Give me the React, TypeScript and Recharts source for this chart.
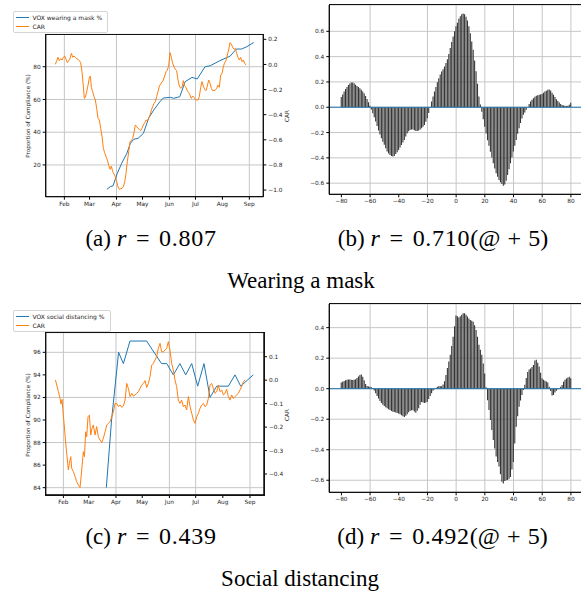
import React from "react";
import { ComposedChart, LineChart, Line, Bar, XAxis, YAxis, CartesianGrid, ReferenceLine, Legend } from "recharts";

// month ticks on a day-of-year axis (2020, Jan 1 = 0)
const MONTH_TICKS = [31, 60, 91, 121, 152, 182, 213, 244];
const MONTH_LABELS = ["Feb", "Mar", "Apr", "May", "Jun", "Jul", "Aug", "Sep"];

// (a) wearing a mask
const maskVoxDay = [80, 84, 87, 92, 97, 103, 107, 111, 116, 122, 128, 134, 141, 145, 153, 157, 164, 170, 178, 184, 193, 199, 210, 222, 229, 235, 241, 249];
const maskVoxPct = [5.1, 6.8, 7.2, 14.9, 21, 27.1, 33.2, 35.7, 36.3, 39.3, 48.5, 53.6, 58.6, 60.9, 61.3, 60.7, 61.7, 70.8, 73.5, 72.5, 80, 80.6, 83.7, 86.5, 90.8, 90.8, 92.2, 94.8];
const maskCarDay = [
  20.6, 22.2, 23.7, 25.2, 26.8, 28.3, 29.8, 31.4, 32.9, 34.5, 36.0, 37.5, 39.1, 40.6, 42.1, 43.7, 45.2, 46.7, 48.3, 49.8,
  51.3, 52.9, 54.0, 55.2, 56.7, 58.3, 59.8, 60.9, 62.1, 63.6, 65.2, 66.7, 68.2, 69.8, 71.3, 72.8, 74.4, 75.9, 77.4, 79.0,
  80.5, 82.0, 83.6, 85.1, 86.7, 88.2, 89.7, 91.3, 92.8, 94.3, 95.9, 97.4, 98.9, 100.5, 102.0, 103.5, 105.1, 106.6, 108.1, 109.7,
  111.2, 112.7, 114.3, 115.8, 117.4, 118.9, 120.4, 122.0, 123.5, 125.0, 126.6, 128.1, 129.6, 131.2, 132.7, 134.2, 135.8, 137.3, 138.8, 140.4,
  141.9, 143.5, 145.0, 146.5, 148.1, 149.6, 151.1, 152.7, 154.2, 155.7, 157.3, 158.8, 160.3, 161.9, 163.4, 164.9, 166.5, 168.0, 169.6, 171.1,
  172.6, 174.2, 175.7, 177.2, 178.8, 180.3, 181.8, 183.4, 184.9, 186.4, 188.0, 189.5, 191.0, 192.6, 194.1, 195.6, 197.2, 198.7, 200.3, 201.8,
  203.3, 204.9, 206.4, 207.9, 209.5, 211.0, 212.5, 214.1, 215.6, 217.1, 218.7, 220.2, 221.7, 223.3, 224.8, 226.4, 227.9, 229.4, 231.0, 232.5,
  234.0, 235.6, 237.1, 238.6, 240.2,
];
const maskCar = [
  0.001, 0.03, 0.057, 0.03, 0.046, 0.035, 0.057, 0.067, 0.041, 0.014, 0.03, 0.049, 0.088, 0.057, 0.067, 0.057, 0.046, 0.041, 0.03, 0.014,
  -0.058, -0.177, -0.27, -0.262, -0.217, -0.164, -0.103, -0.092, -0.182, -0.217, -0.257, -0.283, -0.35, -0.429, -0.443, -0.509, -0.575, -0.668, -0.703, -0.735,
  -0.761, -0.801, -0.835, -0.809, -0.854, -0.873, -0.894, -0.934, -0.974, -0.995, -0.989, -0.987, -0.974, -0.934, -0.867, -0.774, -0.695, -0.615, -0.607, -0.589,
  -0.543, -0.482, -0.496, -0.509, -0.517, -0.527, -0.509, -0.482, -0.464, -0.443, -0.448, -0.429, -0.403, -0.363, -0.336, -0.31, -0.296, -0.257, -0.217, -0.172,
  -0.156, -0.14, -0.124, -0.092, -0.058, -0.044, -0.012, 0.094, 0.057, 0.009, -0.018, -0.039, -0.05, -0.124, -0.172, -0.19, -0.182, -0.129, -0.172, -0.182,
  -0.209, -0.225, -0.243, -0.27, -0.251, -0.262, -0.278, -0.283, -0.283, -0.257, -0.182, -0.137, -0.172, -0.198, -0.209, -0.172, -0.124, -0.15, -0.19, -0.209,
  -0.209, -0.204, -0.19, -0.164, -0.182, -0.084, -0.076, -0.018, 0.014, 0.03, 0.075, 0.115, 0.173, 0.163, 0.136, 0.12, 0.128, 0.088, 0.057, 0.035,
  0.057, 0.022, 0.035, 0.009, -0.004,
];

// (b) cross-correlation, mask, lags -80..80
const LAG_START = -80;
const LAG_TICKS = [-80, -60, -40, -20, 0, 20, 40, 60, 80];
const LAG_DOMAIN: [number, number] = [-88.44, 88.44];
const maskXcorr = [
  0.08, 0.1, 0.125, 0.145, 0.16, 0.175, 0.188, 0.195, 0.195, 0.19, 0.178, 0.168, 0.16, 0.15, 0.138, 0.125, 0.108, 0.088, 0.065, 0.04,
  0.012, -0.018, -0.048, -0.08, -0.113, -0.148, -0.184, -0.215, -0.245, -0.272, -0.297, -0.325, -0.35, -0.366, -0.378, -0.386, -0.39, -0.385, -0.37, -0.355,
  -0.338, -0.318, -0.298, -0.278, -0.258, -0.232, -0.205, -0.19, -0.18, -0.175, -0.175, -0.182, -0.188, -0.188, -0.184, -0.176, -0.166, -0.154, -0.14, -0.115,
  -0.087, -0.045, 0.002, 0.045, 0.085, 0.125, 0.16, 0.198, 0.23, 0.258, 0.282, 0.3, 0.322, 0.35, 0.38, 0.42, 0.468, 0.515, 0.56, 0.6,
  0.64, 0.668, 0.7, 0.72, 0.735, 0.74, 0.735, 0.715, 0.685, 0.64, 0.585, 0.52, 0.455, 0.37, 0.285, 0.185, 0.085, 0.022, -0.035, -0.095,
  -0.155, -0.208, -0.26, -0.305, -0.352, -0.398, -0.443, -0.485, -0.522, -0.55, -0.575, -0.592, -0.607, -0.62, -0.61, -0.58, -0.535, -0.49, -0.443, -0.398,
  -0.35, -0.305, -0.258, -0.21, -0.166, -0.125, -0.088, -0.06, -0.042, -0.02, 0.0, 0.025, 0.045, 0.06, 0.072, 0.082, 0.09, 0.094, 0.098, 0.1,
  0.105, 0.115, 0.124, 0.13, 0.138, 0.14, 0.132, 0.115, 0.098, 0.08, 0.063, 0.05, 0.037, 0.026, 0.018, 0.014, 0.011, 0.01, 0.012, 0.02,
  0.035,
];

// (c) social distancing
const distVoxDay = [80, 86, 94, 99.5, 107, 126, 143, 149, 156.5, 164, 170.6, 177.5, 184.3, 191.5, 198.4, 206, 219.3, 226.9, 233.4, 247.7];
const distVoxPct = [84, 90, 96, 95, 97, 97, 95, 95, 94, 95, 94, 95, 93, 95, 92, 93, 93, 94, 93, 94];
const distCarDay = [
  21.9, 23.4, 25.3, 27.2, 28.3, 29.5, 30.2, 31.8, 33.3, 34.8, 36.7, 37.8, 39.4, 40.5, 42.4, 44.3, 46.2, 48.1, 50.0, 51.9,
  53.8, 55.0, 56.5, 57.6, 59.1, 60.7, 62.2, 63.7, 65.2, 67.1, 69.0, 70.9, 72.8, 74.7, 76.6, 78.6, 80.5, 82.4, 84.3, 86.2,
  88.1, 90.0, 91.9, 93.8, 95.7, 97.6, 99.5, 101.4, 103.3, 105.2, 107.1, 109.0, 110.9, 112.8, 114.7, 116.6, 118.5, 120.4, 122.3, 124.2,
  126.1, 128.0, 129.9, 131.8, 133.7, 135.6, 137.5, 139.4, 141.3, 143.2, 145.1, 147.0, 148.9, 150.8, 152.7, 154.6, 156.5, 158.4, 160.3, 162.2,
  164.1, 166.0, 167.9, 169.8, 171.7, 173.7, 175.6, 177.5, 179.4, 181.3, 183.2, 185.1, 187.0, 188.9, 190.8, 192.7, 194.6, 196.5, 198.4, 200.3,
  202.2, 204.1, 206.0, 207.9, 209.8, 211.7, 213.6, 215.5, 217.4, 219.3, 221.2, 223.1, 225.0, 226.9, 228.8, 230.7, 232.6, 234.5, 236.4, 238.3,
];
const distCar = [
  0.001, -0.021, -0.049, -0.078, -0.102, -0.082, -0.12, -0.184, -0.255, -0.312, -0.383, -0.355, -0.326, -0.376, -0.39, -0.411, -0.433, -0.447, -0.458, -0.383,
  -0.305, -0.326, -0.22, -0.241, -0.156, -0.149, -0.234, -0.205, -0.191, -0.234, -0.198, -0.241, -0.255, -0.266, -0.248, -0.22, -0.191, -0.184, -0.177, -0.156,
  -0.134, -0.099, -0.099, -0.113, -0.106, -0.116, -0.11, -0.085, -0.014, -0.035, -0.07, -0.056, -0.068, -0.063, -0.056, -0.049, -0.035, -0.021, -0.014, -0.002,
  -0.031, -0.014, 0.015, 0.064, 0.072, 0.086, 0.1, 0.136, 0.157, 0.121, 0.121, 0.128, 0.136, 0.164, 0.128, 0.072, 0.043, 0.001, -0.028, -0.085,
  -0.099, -0.085, -0.113, -0.106, -0.127, -0.07, -0.113, -0.141, -0.17, -0.184, -0.156, -0.141, -0.12, -0.106, -0.099, -0.113, -0.106, -0.078, -0.021, -0.014,
  -0.035, -0.056, -0.049, -0.021, -0.049, -0.042, -0.063, -0.056, -0.039, -0.07, -0.085, -0.063, -0.078, -0.07, -0.063, -0.056, -0.042, -0.028, -0.007, 0.001,
];

// (d) cross-correlation, social distancing, lags -80..80
const distXcorr = [
  0.04, 0.045, 0.05, 0.055, 0.058, 0.06, 0.06, 0.058, 0.057, 0.058, 0.062, 0.07, 0.08, 0.09, 0.093, 0.078, 0.055, 0.03, 0.017, 0.014,
  0.013, 0.01, 0.004, -0.012, -0.03, -0.048, -0.064, -0.08, -0.093, -0.105, -0.114, -0.122, -0.129, -0.135, -0.14, -0.146, -0.151, -0.153, -0.156, -0.159,
  -0.162, -0.168, -0.174, -0.18, -0.185, -0.178, -0.168, -0.155, -0.146, -0.142, -0.142, -0.15, -0.158, -0.145, -0.128, -0.105, -0.087, -0.09, -0.093, -0.09,
  -0.085, -0.068, -0.048, -0.03, -0.013, -0.003, 0.004, 0.012, 0.016, 0.017, 0.016, 0.028, 0.048, 0.09, 0.135, 0.178, 0.222, 0.28, 0.34, 0.41,
  0.48, 0.475, 0.467, 0.475, 0.485, 0.495, 0.495, 0.485, 0.473, 0.46, 0.45, 0.445, 0.438, 0.415, 0.385, 0.34, 0.288, 0.255, 0.222, 0.165,
  0.1, 0.01, -0.075, -0.14, -0.205, -0.27, -0.337, -0.392, -0.445, -0.48, -0.51, -0.56, -0.61, -0.622, -0.605, -0.6, -0.598, -0.59, -0.578, -0.53,
  -0.48, -0.36, -0.25, -0.18, -0.118, -0.078, -0.042, -0.008, 0.025, 0.07, 0.11, 0.125, 0.133, 0.142, 0.155, 0.185, 0.19, 0.17, 0.145, 0.105,
  0.068, 0.058, 0.052, 0.047, 0.04, 0.012, -0.015, -0.045, -0.042, -0.025, -0.013, -0.003, 0.003, 0.012, 0.024, 0.045, 0.058, 0.066, 0.074, 0.078,
  0.068,
];

const BLUE = "#1f77b4";
const ORANGE = "#ff7f0e";
const GRID = "#c6c6c6";
const SPINE = { stroke: "#000", strokeWidth: 1.3 };
const SANS = '"DejaVu Sans", sans-serif';
const SERIF = '"Liberation Serif", "Times New Roman", serif';
const TICK = { fontSize: 5.8, fill: "#1a1a1a", fontFamily: SANS };
const W = 295;
const H = 215;

const fmt = (v: number, d: number) => v.toFixed(d).replace("-", "\u2212");
const monthLabel = (v: number) => MONTH_LABELS[MONTH_TICKS.indexOf(v)] ?? "";

// black box around the plot area (matplotlib spines)
const Frame = ({ left, top, width, height }: { left: number; top: number; width: number; height: number }) => (
  <div
    style={{
      position: "absolute",
      zIndex: 2,
      left: left - 0.75,
      top: top - 0.75,
      width: width + 1.5,
      height: height + 1.5,
      border: "1.5px solid #111",
      boxSizing: "border-box",
      pointerEvents: "none",
    }}
  />
);

const renderLegend = (props: any) => (
  <div
    style={{
      border: "1px solid #d4d4d4",
      borderRadius: 2,
      background: "#fff",
      padding: "1px 5px 1px 2px",
      fontFamily: SANS,
      fontSize: 6,
      color: "#1a1a1a",
      lineHeight: "9px",
      whiteSpace: "nowrap",
    }}
  >
    {(props.payload || []).map((p: any) => (
      <div key={p.value} style={{ display: "flex", alignItems: "center", height: 9 }}>
        <span style={{ display: "inline-block", width: 13, borderTop: `1px solid ${p.color}`, marginRight: 4 }} />
        <span>{p.value}</span>
      </div>
    ))}
  </div>
);

type TimeProps = {
  top: number;
  voxName: string;
  voxDay: number[];
  voxVal: number[];
  carDay: number[];
  carVal: number[];
  xDomain: [number, number];
  leftDomain: [number, number];
  leftTicks: number[];
  rightDomain: [number, number];
  rightTicks: number[];
  marginTop: number;
  marginBottom: number;
  rightWidth: number;
  legendTop: number;
};

function TimePanel(p: TimeProps) {
  const vox = p.voxDay.map((d, i) => ({ day: d, vox: p.voxVal[i] }));
  const car = p.carDay.map((d, i) => ({ day: d, car: p.carVal[i] }));
  const leftW = 45.7;
  const xH = 18;
  return (
    <div style={{ position: "absolute", left: 0, top: p.top, width: W, height: H }}>
      <LineChart width={W} height={H} margin={{ top: p.marginTop, right: 0, bottom: p.marginBottom, left: 0 }}>
        <CartesianGrid stroke={GRID} strokeWidth={1} />
        <XAxis
          dataKey="day"
          type="number"
          domain={p.xDomain}
          allowDataOverflow
          ticks={MONTH_TICKS}
          tickFormatter={monthLabel}
          tick={TICK}
          tickSize={3}
          height={xH}
          axisLine={SPINE}
          tickLine={{ stroke: "#000" }}
        />
        <YAxis
          type="number"
          domain={p.leftDomain}
          allowDataOverflow
          ticks={p.leftTicks}
          tickFormatter={(v) => fmt(v, 0)}
          tick={TICK}
          tickSize={3}
          width={leftW}
          axisLine={SPINE}
          tickLine={{ stroke: "#000" }}
        />
        <YAxis
          yAxisId="right"
          orientation="right"
          type="number"
          domain={p.rightDomain}
          allowDataOverflow
          ticks={p.rightTicks}
          tickFormatter={(v) => fmt(v, 1)}
          tick={TICK}
          tickSize={3}
          width={p.rightWidth}
          axisLine={SPINE}
          tickLine={{ stroke: "#000" }}
        />
        <Legend
          layout="vertical"
          align="center"
          verticalAlign="middle"
          content={renderLegend}
          itemSorter={(item: any) => (item.value === "CAR" ? 1 : 0)}
          wrapperStyle={{ left: 12.5, top: p.legendTop, width: "auto" }}
        />
        <Line data={vox} dataKey="vox" name={p.voxName} stroke={BLUE} strokeWidth={1} dot={false} isAnimationActive={false} />
        <Line data={car} dataKey="car" name="CAR" yAxisId="right" stroke={ORANGE} strokeWidth={1} dot={false} isAnimationActive={false} />
      </LineChart>
      <Frame
        left={leftW}
        top={p.marginTop}
        width={W - leftW - p.rightWidth}
        height={H - p.marginTop - p.marginBottom - xH}
      />
    </div>
  );
}

type LagProps = {
  top: number;
  values: number[];
  yDomain: [number, number];
  yTicks: number[];
  marginTop: number;
  marginBottom: number;
};

function LagPanel(p: LagProps) {
  const data = p.values.map((r, i) => ({ lag: LAG_START + i, r }));
  const leftW = 39.3;
  const xH = 16;
  return (
    <div style={{ position: "absolute", left: 290, top: p.top, width: W, height: H }}>
      <ComposedChart width={W} height={H} data={data} margin={{ top: p.marginTop, right: 2, bottom: p.marginBottom, left: 0 }}>
        <CartesianGrid stroke={GRID} strokeWidth={1} />
        <XAxis
          dataKey="lag"
          type="number"
          domain={LAG_DOMAIN}
          allowDataOverflow
          ticks={LAG_TICKS}
          tickFormatter={(v) => fmt(v, 0)}
          tick={TICK}
          tickSize={3}
          height={xH}
          axisLine={SPINE}
          tickLine={{ stroke: "#000" }}
        />
        <YAxis
          type="number"
          domain={p.yDomain}
          allowDataOverflow
          ticks={p.yTicks}
          tickFormatter={(v) => fmt(v, 1)}
          tick={TICK}
          tickSize={3}
          width={leftW}
          axisLine={SPINE}
          tickLine={{ stroke: "#000" }}
        />
        <Bar dataKey="r" fill="#363636" barSize={1.1} isAnimationActive={false} />
        <ReferenceLine y={0} stroke={BLUE} strokeWidth={1} />
      </ComposedChart>
      <Frame
        left={leftW}
        top={p.marginTop}
        width={W - leftW - 2}
        height={H - p.marginTop - p.marginBottom - xH}
      />
    </div>
  );
}

const AxisTitle = ({ x, y, children }: { x: number; y: number; children: React.ReactNode }) => (
  <div
    style={{
      position: "absolute",
      left: x,
      top: y,
      transform: "translate(-50%, -50%) rotate(-90deg)",
      whiteSpace: "nowrap",
      fontFamily: SANS,
      fontSize: 5.7,
      color: "#1a1a1a",
      lineHeight: "7px",
    }}
  >
    {children}
  </div>
);

const Caption = ({ cx, top, children }: { cx: number; top: number; children: React.ReactNode }) => (
  <div
    style={{
      position: "absolute",
      left: cx - 150,
      width: 300,
      top,
      textAlign: "center",
      fontFamily: SERIF,
      fontSize: 23,
      lineHeight: "23px",
      color: "#000",
      whiteSpace: "nowrap",
    }}
  >
    {children}
  </div>
);

// "(a) r = 0.807" style sub-caption with math-like spacing
const SubCaption = ({ cx, top, tag, value, lag }: { cx: number; top: number; tag: string; value: string; lag?: string }) => (
  <Caption cx={cx} top={top}>
    <span>({tag})</span>
    <span style={{ fontSize: 24 }}>
      <i style={{ marginLeft: "0.25em" }}>r</i>
      <span style={{ margin: "0 0.4em" }}>=</span>
      <span style={{ letterSpacing: "0.03em" }}>{value}</span>
      {lag && (
        <>
          <span>(@</span>
          <span style={{ margin: "0 0.3em" }}>+</span>
          <span>{lag})</span>
        </>
      )}
    </span>
  </Caption>
);

export default function App() {
  return (
    <div style={{ position: "absolute", left: 0, top: 0, width: 581, height: 592, overflow: "hidden", background: "#fff" }}>
      <TimePanel
        top={0}
        voxName="VOX wearing a mask %"
        voxDay={maskVoxDay}
        voxVal={maskVoxPct}
        carDay={maskCarDay}
        carVal={maskCar}
        xDomain={[9.5, 260.1]}
        leftDomain={[0.6, 99.8]}
        leftTicks={[20, 40, 60, 80]}
        rightDomain={[-1.053, 0.24]}
        rightTicks={[-1.0, -0.8, -0.6, -0.4, -0.2, 0.0, 0.2]}
        marginTop={34.3}
        marginBottom={0.3}
        rightWidth={31.7}
        legendTop={10.5}
      />
      <LagPanel top={0} values={maskXcorr} yDomain={[-0.688, 0.808]} yTicks={[-0.6, -0.4, -0.2, 0, 0.2, 0.4, 0.6]} marginTop={5} marginBottom={4.7} />
      <TimePanel
        top={300}
        voxName="VOX social distancing %"
        voxDay={distVoxDay}
        voxVal={distVoxPct}
        carDay={distCarDay}
        carVal={distCar}
        xDomain={[10.8, 260]}
        leftDomain={[83.35, 97.74]}
        leftTicks={[84, 86, 88, 90, 92, 94, 96]}
        rightDomain={[-0.4895, 0.2023]}
        rightTicks={[-0.4, -0.3, -0.2, -0.1, 0.0, 0.1]}
        marginTop={32.7}
        marginBottom={2}
        rightWidth={31}
        legendTop={9.5}
      />
      <LagPanel top={300} values={distXcorr} yDomain={[-0.679, 0.555]} yTicks={[-0.6, -0.4, -0.2, 0, 0.2, 0.4]} marginTop={4} marginBottom={6.7} />

      <AxisTitle x={28} y={115.5}>Proportion of Compliance (%)</AxisTitle>
      <AxisTitle x={287.3} y={115.5}>CAR</AxisTitle>
      <AxisTitle x={28} y={415}>Proportion of Compliance (%)</AxisTitle>
      <AxisTitle x={287.3} y={415}>CAR</AxisTitle>

      <SubCaption cx={151} top={227.2} tag="a" value="0.807" />
      <SubCaption cx={443} top={227.2} tag="b" value="0.710" lag="5" />
      <Caption cx={301} top={269.4}>Wearing a mask</Caption>
      <SubCaption cx={151} top={525.2} tag="c" value="0.439" />
      <SubCaption cx={442.5} top={525.2} tag="d" value="0.492" lag="5" />
      <Caption cx={300} top={567.4}>Social distancing</Caption>
    </div>
  );
}
